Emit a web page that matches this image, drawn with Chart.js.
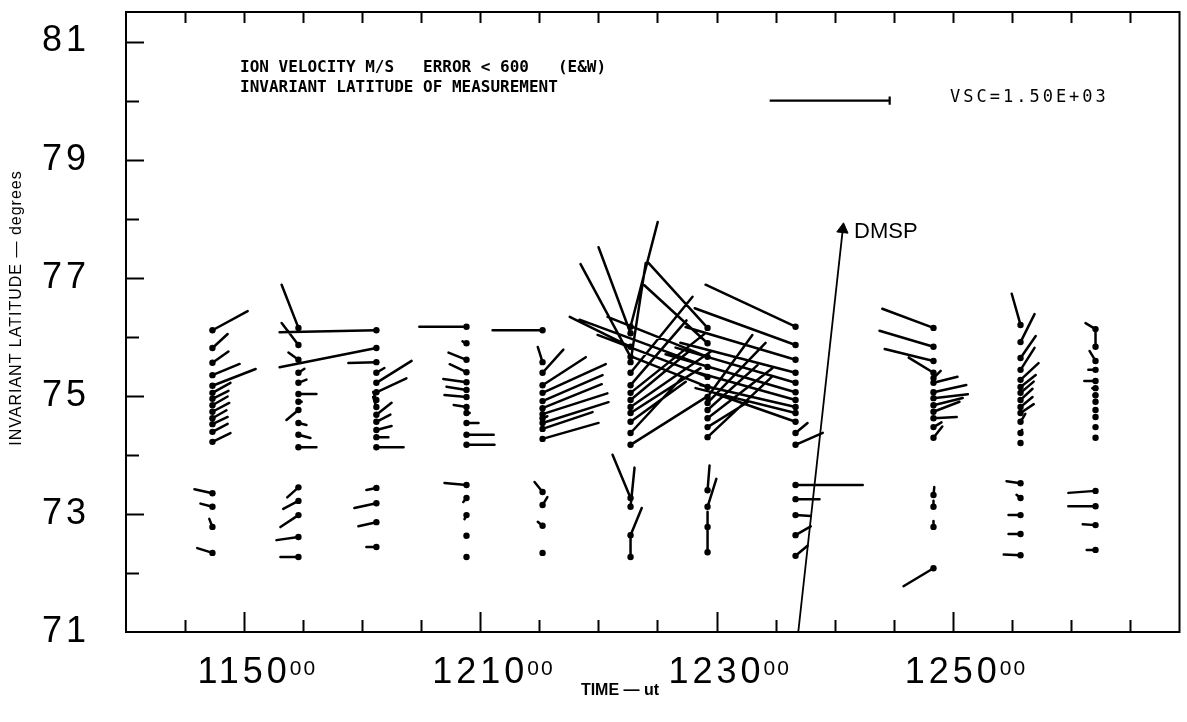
<!DOCTYPE html>
<html><head><meta charset="utf-8">
<script src="https://cdn.jsdelivr.net/npm/chart.js@4.4.1/dist/chart.umd.min.js"></script>
<style>html,body{margin:0;padding:0;background:#fff}</style>
</head><body>
<canvas id="c" width="1187" height="722"></canvas>
<script>
// ---- axis values (x in minutes after 00:00 UT) ----
const xMin = 700, xMax = 789.2;          // 11:40 .. ~13:09
const yMin = 71, yMax = 81.5;            // invariant latitude, degrees
const xMinorTicks = [705,710,715,720,725,730,735,740,745,750,755,760,765,770,775,780,785];
const xMajorTicks = [710, 730, 750, 770];
const xTickLabels = ['1150', '1210', '1230', '1250'];
const xTickSup = '00';
const yMinorTicks = [72,73,74,75,76,77,78,79,80,81];
const yTickLabels = [71, 73, 75, 77, 79, 81];

// ---- radar scan times (minutes) ----
const scanTimes = [707.32, 714.6, 721.2, 728.83, 735.27, 742.72, 749.24, 756.69, 768.37, 775.74, 782.09];

// ---- measurements per scan: [latitude, V east (m/s), V north (m/s)] ----
const scan1 = [[76.11,440,240],[75.81,190,175],[75.56,200,140],[75.35,340,140],[75.17,540,210],[75.05,225,125],[74.95,200,100],[74.84,190,110],[74.73,210,110],[74.62,175,100],[74.52,190,90],[74.39,190,100],[74.22,225,110],
  [73.35,-225,50],[73.12,-150,40],[72.78,-40,100],[72.34,-190,60]];
const scan2 = [[76.15,-210,540],[75.86,-210,275],[75.61,-125,90],[75.39,75,50],[75.22,100,40],[75.03,225,0],[74.90,40,0],[74.76,-150,-125],[74.54,100,-25],[74.34,150,-40],[74.13,225,0],
  [73.45,-140,-125],[73.22,-190,-100],[72.98,-225,-150],[72.61,-275,-40],[72.27,-225,0]];
const scan3 = [[76.11,-1210,-25],[75.81,-1210,-240],[75.57,-350,-10],[75.39,100,60],[75.22,440,275],[75.06,375,175],[74.93,-40,100],[74.81,-40,125],[74.68,190,150],[74.56,175,90],[74.42,190,50],[74.30,150,0],[74.13,340,0],
  [73.44,-125,-25],[73.18,-275,-60],[72.86,-225,-50],[72.44,-125,0]];
const scan4 = [[76.17,-590,0],[75.89,-50,25],[75.61,-225,90],[75.40,-210,100],[75.23,-290,40],[75.10,-250,40],[74.98,-275,25],[74.81,-160,25],[74.71,40,0],[74.54,150,0],[74.34,340,0],[74.17,350,0],
  [73.49,-275,25],[73.27,-40,-50],[72.98,-25,-50],[72.63,0,0],[72.27,0,0]];
const scan5 = [[76.11,-625,0],[75.57,-60,190],[75.39,260,290],[75.18,540,350],[75.05,790,360],[74.91,750,325],[74.79,740,300],[74.69,810,260],[74.62,60,25],[74.54,825,260],[74.44,625,210],[74.27,700,200],
  [73.37,-100,125],[73.15,60,100],[72.80,-60,50],[72.34,0,0]];
const scan6 = [[76.17,340,1310],[76.06,-400,1075],[75.83,-760,375],[75.66,-625,1160],[75.57,190,1240],[75.39,775,950],[75.18,700,810],[75.05,940,750],[74.93,750,625],[74.81,1000,690],[74.71,875,560],[74.56,690,500],[74.37,650,700],[74.17,950,600],
  [73.27,-225,540],[73.12,50,490],[72.64,140,340],[72.27,0,250]];
const scan7 = [[76.15,-750,825],[75.89,-790,725],[75.66,-1250,500],[75.49,-1600,590],[75.32,-1375,525],[75.15,-940,375],[74.98,560,775],[74.88,725,750],[74.76,625,560],[74.62,810,625],[74.47,500,310],[74.30,800,750],
  [73.40,25,310],[73.12,110,350],[72.78,0,190],[72.35,0,310]];
const scan8 = [[76.17,-1125,525],[75.86,-1260,460],[75.61,-1375,410],[75.39,-1440,375],[75.22,-1500,440],[75.06,-1625,475],[74.93,-1250,350],[74.81,-1190,275],[74.71,-1250,310],[74.56,-1000,350],[74.37,150,125],[74.17,340,150],
  [73.49,840,0],[73.25,300,0],[72.98,190,-10],[72.64,190,110],[72.29,150,125]];
const scan9 = [[76.15,-640,240],[75.83,-675,200],[75.59,-610,150],[75.39,-310,190],[75.30,90,90],[75.22,300,75],[75.06,410,90],[74.96,430,50],[74.84,365,90],[74.73,325,125],[74.62,290,15],[74.47,100,60],[74.29,110,140],
  [73.32,10,100],[73.12,0,75],[72.78,0,75],[72.08,-375,-225]];
const scan10 = [[76.20,-110,390],[75.91,175,350],[75.64,190,275],[75.44,175,275],[75.27,225,210],[75.15,190,150],[75.05,165,140],[74.93,150,140],[74.81,150,125],[74.71,165,110],[74.56,60,100],[74.37,20,40],[74.20,0,0],
  [73.52,-175,25],[73.27,-50,40],[72.98,-150,0],[72.66,-150,0],[72.30,-210,10]];
const scan11 = [[76.13,-125,75],[75.83,0,240],[75.59,-75,125],[75.44,-90,0],[75.25,-140,0],[75.13,-40,0],[75.01,-25,0],[74.90,0,0],[74.76,0,0],[74.64,0,0],[74.47,0,0],[74.29,0,0],
  [73.39,-340,-25],[73.13,-340,0],[72.81,-160,10],[72.39,-110,0]];
const scans = [scan1, scan2, scan3, scan4, scan5, scan6, scan7, scan8, scan9, scan10, scan11];

// ---- vector scale: VSC m/s equals this much time / latitude on the plot ----
const VSC = 1500;
const VSC_MINUTES = 10.16;
const VSC_DEGREES = 2.032;
const scaleBarStart = [754.5, 80.0];   // [time, latitude] of reference bar

// ---- DMSP track ----
const dmspTime = [756.92, 760.69];
const dmspLat = [71.0, 77.82];

// ---- build datasets ----
const KT = VSC_MINUTES / VSC, KL = VSC_DEGREES / VSC;
const dotPts = [], vecPts = [];
scans.forEach((scan, i) => {
  const t = scanTimes[i];
  scan.forEach(([lat, ve, vn]) => {
    dotPts.push({x: t, y: lat});
    vecPts.push({x: t, y: lat}, {x: t + ve * KT, y: lat + vn * KL}, {x: t, y: null});
  });
});
const barEnd = scaleBarStart[0] + VSC * KT;
const barPts = [
  {x: scaleBarStart[0], y: scaleBarStart[1]}, {x: barEnd, y: scaleBarStart[1]}, {x: barEnd, y: null},
  {x: barEnd, y: scaleBarStart[1] - 0.07}, {x: barEnd, y: scaleBarStart[1] + 0.07}
];
const dmspPts = dmspTime.map((t, i) => ({x: t, y: dmspLat[i]}));
const dmspAngle = Math.atan2(45.3, 403) * 180 / Math.PI;

const X_PAD = 19;
const LS = 4; // tick label letter spacing (px)
const TICK_FONT = '"Liberation Sans", Arial, sans-serif';

const framePlugin = {
  id: 'frame',
  beforeDraw(chart) {
    const c = chart.ctx; c.save(); c.fillStyle = '#fff'; c.fillRect(0, 0, chart.width, chart.height); c.restore();
    c.letterSpacing = LS + 'px';
  },
  afterDraw(chart) {
    const {ctx, chartArea: a, scales: {x, y}} = chart;
    ctx.save();
    ctx.strokeStyle = '#000'; ctx.lineWidth = 2; ctx.lineCap = 'butt';
    ctx.strokeRect(a.left, a.top, a.right - a.left, a.bottom - a.top);
    const seg = (x1, y1, x2, y2) => { ctx.beginPath(); ctx.moveTo(x1, y1); ctx.lineTo(x2, y2); ctx.stroke(); };
    xMinorTicks.forEach(v => {
      const px = Math.round(x.getPixelForValue(v)) + 0.5;
      const major = xMajorTicks.includes(v);
      seg(px, a.bottom, px, a.bottom - (major ? 20 : 12));
      seg(px, a.top, px, a.top + 11);
    });
    yMinorTicks.forEach(v => {
      const py = Math.round(y.getPixelForValue(v)) + 0.5;
      const major = yTickLabels.includes(v);
      seg(a.left, py, a.left + (major ? 18 : 13), py);
    });
    // superscript seconds on time labels
    ctx.fillStyle = '#000';
    const capCenter = x.top + X_PAD + 36 * 1.2 / 2;
    const capTop = capCenter - 0.358 * 36;
    xMajorTicks.forEach((v, i) => {
      ctx.letterSpacing = LS + 'px';
      ctx.font = '36px ' + TICK_FONT;
      const w = ctx.measureText(xTickLabels[i]).width;
      const px = x.getPixelForValue(v);
      ctx.letterSpacing = '2px';
      ctx.font = '21px ' + TICK_FONT;
      ctx.textAlign = 'left'; ctx.textBaseline = 'alphabetic';
      ctx.fillText(xTickSup, px + w / 2 - LS / 2 + 1, capTop + 0.716 * 21);
    });
    ctx.letterSpacing = '0px';
    // axis titles
    ctx.font = 'bold 16px ' + TICK_FONT;
    ctx.textAlign = 'center'; ctx.textBaseline = 'middle';
    ctx.fillText('TIME \u2014 ut', 620, 691);
    ctx.save(); ctx.translate(17, 308); ctx.rotate(-Math.PI / 2);
    ctx.letterSpacing = '1px';
    ctx.font = '16px ' + TICK_FONT;
    ctx.fillText('INVARIANT LATITUDE \u2014 degrees', 0, 0); ctx.restore();
    ctx.letterSpacing = '0px';
    // header annotations
    ctx.textAlign = 'left'; ctx.textBaseline = 'alphabetic';
    ctx.font = 'bold 16px "DejaVu Sans Mono", monospace';
    ctx.fillText('ION VELOCITY M/S   ERROR < 600   (E&W)', 240, 72);
    ctx.fillText('INVARIANT LATITUDE OF MEASUREMENT', 240, 92);
    ctx.letterSpacing = '3px';
    ctx.font = '17px "DejaVu Sans Mono", monospace';
    ctx.fillText('VSC=1.50E+03', 950, 102);
    ctx.letterSpacing = '0px';
    ctx.font = '22px ' + TICK_FONT;
    ctx.textBaseline = 'middle';
    ctx.fillText('DMSP', 854, 232);
    ctx.restore();
  }
};

new Chart(document.getElementById('c'), {
  type: 'scatter',
  data: {
    datasets: [
      {label: 'vectors', data: vecPts, showLine: true, spanGaps: false, borderColor: '#000', borderWidth: 2.5, pointRadius: 0, tension: 0, borderCapStyle: 'round'},
      {label: 'points', data: dotPts, showLine: false, pointRadius: 3.2, pointBackgroundColor: '#000', pointBorderColor: '#000', pointBorderWidth: 0},
      {label: 'scale', data: barPts, showLine: true, spanGaps: false, borderColor: '#000', borderWidth: 2.2, pointRadius: 0},
      {label: 'DMSP', data: dmspPts, showLine: true, borderColor: '#000', borderWidth: 1.8, pointRadius: [0, 6.5], pointStyle: 'triangle',
       pointRotation: [0, dmspAngle], pointBackgroundColor: '#000', pointBorderColor: '#000', pointBorderWidth: 1}
    ]
  },
  options: {
    responsive: false, animation: false, devicePixelRatio: 1,
    layout: {padding: {top: 12, right: 7, left: 0, bottom: 0}},
    plugins: {legend: {display: false}, tooltip: {enabled: false}, title: {display: false}},
    scales: {
      x: {
        type: 'linear', min: xMin, max: xMax,
        grid: {display: false, drawTicks: false}, border: {display: false},
        afterBuildTicks: s => { s.ticks = xMajorTicks.map(v => ({value: v})); },
        ticks: {autoSkip: false, maxRotation: 0, padding: X_PAD, color: '#000',
          font: {family: TICK_FONT, size: 36},
          callback: v => { const i = xMajorTicks.indexOf(v); return i >= 0 ? xTickLabels[i] : ''; }},
        afterFit: s => { s.height = 90; s.paddingLeft = 0; s.paddingRight = 0; s.paddingTop = 0; s.paddingBottom = 0; }
      },
      y: {
        type: 'linear', min: yMin, max: yMax,
        grid: {display: false, drawTicks: false}, border: {display: false},
        afterBuildTicks: s => { s.ticks = yTickLabels.map(v => ({value: v})); },
        ticks: {autoSkip: false, padding: 36, color: '#000',
          font: {family: TICK_FONT, size: 36},
          callback: v => String(v)},
        afterFit: s => { s.width = 126; s.paddingLeft = 0; s.paddingRight = 0; s.paddingTop = 0; s.paddingBottom = 0; }
      }
    }
  },
  plugins: [framePlugin]
});
</script>
</body></html>
